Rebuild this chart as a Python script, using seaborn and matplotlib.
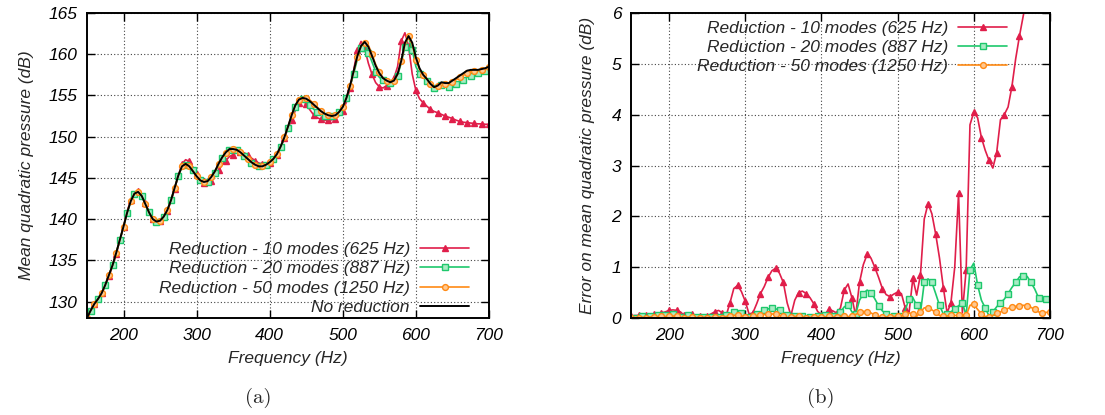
import numpy as np
import pandas as pd
import matplotlib
matplotlib.use("Agg")
import matplotlib.pyplot as plt
import seaborn as sns

# frequency grid (Hz)
freq = np.arange(150, 705, 5)

# (a) mean quadratic pressure (dB)
ref_db = [128.0, 128.9, 129.7, 130.3, 131.0, 132.0, 133.2, 134.4, 135.9, 137.5,
          139.1, 140.8, 142.2, 143.1, 143.3, 142.8, 141.8, 140.8, 140.0, 139.7,
          139.8, 140.3, 141.1, 142.3, 143.8, 145.3, 146.4, 146.7, 146.4, 145.8,
          145.2, 144.7, 144.5, 144.6, 145.1, 145.8, 146.7, 147.5, 148.1, 148.5,
          148.5, 148.4, 148.1, 147.7, 147.3, 146.9, 146.6, 146.4, 146.4, 146.6,
          146.9, 147.3, 147.9, 148.8, 149.9, 151.2, 152.6, 153.8, 154.5, 154.7,
          154.6, 154.3, 153.9, 153.5, 153.1, 152.8, 152.6, 152.5, 152.6, 153.0,
          153.6, 154.7, 156.2, 158.0, 159.8, 161.0, 161.5, 160.9, 159.8, 158.6,
          157.7, 157.1, 156.8, 156.6, 156.8, 157.6, 159.2, 161.4, 162.2, 161.4,
          159.6, 158.3, 157.5, 157.0, 156.4, 156.0, 156.2, 156.6, 156.5, 156.5,
          156.8, 157.1, 157.4, 157.7, 158.0, 158.1, 158.1, 158.1, 158.2, 158.3,
          158.5]
red10_db = [128.0, 128.95, 129.75, 130.35, 131.05, 131.9, 133.1, 134.3, 135.8, 137.4,
            139.0, 140.95, 142.35, 143.2, 143.35, 142.9, 141.9, 140.85, 140.0, 139.7,
            139.75, 140.2, 141.0, 142.15, 143.7, 145.25, 146.7, 147.2, 147.0, 146.3,
            145.5, 144.8, 144.4, 144.3, 144.6, 145.2, 145.9, 146.6, 147.1, 147.6,
            147.8, 148.1, 148.15, 148.05, 147.8, 147.4, 147.1, 146.8, 146.7, 146.7,
            146.85, 147.2, 147.75, 148.65, 149.8, 151.0, 152.05, 153.15, 154.1, 154.65,
            153.9, 153.25, 152.65, 152.3, 152.1, 152.0, 152.0, 152.05, 152.2, 152.55,
            153.1, 154.2, 155.9, 158.1, 160.55, 161.55, 160.7, 158.9, 157.55, 156.55,
            156.05, 155.9, 156.2, 156.4, 157.1, 158.5, 161.6, 162.6, 161.0, 157.6,
            155.6, 154.6, 154.1, 153.7, 153.3, 153.05, 152.9, 152.7, 152.5, 152.35,
            152.2, 152.0, 151.85, 151.75, 151.7, 151.65, 151.6, 151.55, 151.55, 151.5,
            151.5]
green20_db = [128.0, 128.9, 129.7, 130.35, 131.0, 132.05, 133.2, 134.45, 135.95, 137.45,
              139.05, 140.75, 142.15, 143.1, 143.3, 142.85, 141.85, 140.8, 140.0, 139.7,
              139.8, 140.3, 141.1, 142.3, 143.8, 145.25, 146.3, 146.6, 146.5, 145.9,
              145.25, 144.7, 144.45, 144.55, 145.0, 145.65, 146.55, 147.35, 147.95, 148.4,
              148.45, 148.4, 148.1, 147.7, 147.25, 146.85, 146.6, 146.4, 146.35, 146.6,
              146.85, 147.25, 147.85, 148.75, 149.85, 151.1, 152.4, 153.55, 154.4, 154.6,
              154.3, 153.85, 153.35, 153.0, 152.7, 152.55, 152.45, 152.45, 152.55, 152.95,
              153.6, 154.7, 156.1, 157.65, 159.4, 160.75, 161.4, 160.2, 159.05, 157.9,
              157.2, 156.85, 156.7, 156.5, 156.7, 157.4, 158.95, 160.9, 162.15, 160.5,
              158.5, 157.65, 157.15, 156.8, 156.35, 155.9, 155.95, 156.3, 156.15, 156.0,
              156.2, 156.4, 156.6, 156.9, 157.2, 157.4, 157.55, 157.7, 157.85, 157.95,
              158.1]
orange50_db = [128.0, 128.9, 129.7, 130.3, 131.0, 132.0, 133.2, 134.4, 135.9, 137.5,
               139.1, 140.8, 142.2, 143.1, 143.3, 142.8, 141.8, 140.8, 140.0, 139.7,
               139.8, 140.3, 141.1, 142.3, 143.8, 145.3, 146.4, 146.75, 146.45, 145.85,
               145.2, 144.7, 144.5, 144.6, 145.05, 145.75, 146.65, 147.45, 148.05, 148.45,
               148.5, 148.4, 148.1, 147.7, 147.3, 146.9, 146.6, 146.4, 146.4, 146.6,
               146.9, 147.3, 147.9, 148.8, 149.9, 151.2, 152.6, 153.8, 154.5, 154.75,
               154.7, 154.45, 154.0, 153.6, 153.15, 152.8, 152.6, 152.5, 152.6, 153.0,
               153.6, 154.7, 156.15, 157.9, 159.7, 161.0, 161.4, 161.1, 160.0, 158.75,
               157.8, 157.15, 156.8, 156.6, 156.8, 157.55, 159.15, 161.15, 162.15, 161.2,
               159.35, 158.15, 157.45, 157.0, 156.4, 156.0, 156.15, 156.5, 156.35, 156.3,
               156.6, 156.9, 157.2, 157.45, 157.75, 157.9, 157.95, 158.0, 158.1, 158.2,
               158.4]

# (b) error on mean quadratic pressure (dB)
err10 = [0.04, 0.05, 0.05, 0.06, 0.05, 0.08, 0.07, 0.08, 0.10, 0.12,
         0.15, 0.16, 0.15, 0.12, 0.05, 0.08, 0.07, 0.05, 0.03, 0.02,
         0.04, 0.08, 0.12, 0.15, 0.10, 0.05, 0.30, 0.58, 0.64, 0.52,
         0.33, 0.08, 0.10, 0.28, 0.48, 0.62, 0.80, 0.93, 0.98, 0.88,
         0.70, 0.30, 0.05, 0.35, 0.50, 0.53, 0.48, 0.40, 0.28, 0.13,
         0.06, 0.08, 0.17, 0.14, 0.10, 0.20, 0.55, 0.67, 0.40, 0.05,
         0.70, 1.05, 1.25, 1.18, 1.00, 0.80, 0.58, 0.46, 0.42, 0.47,
         0.51, 0.48, 0.20, 0.10, 0.78, 0.45, 0.85, 1.95, 2.25, 2.05,
         1.65, 1.18, 0.60, 0.10, 0.30, 1.00, 2.45, 0.10, 0.95, 3.80,
         4.05, 3.94, 3.55, 3.30, 3.10, 2.95, 3.25, 3.90, 4.00, 4.15,
         4.55, 5.10, 5.55, 5.95, 6.30, 6.45, 6.50, 6.55, 6.65, 6.80,
         7.00]
err20 = [0.02, 0.01, 0.02, 0.03, 0.02, 0.04, 0.03, 0.05, 0.05, 0.06,
         0.07, 0.08, 0.06, 0.02, 0.03, 0.05, 0.04, 0.02, 0.01, 0.02,
         0.01, 0.02, 0.03, 0.02, 0.03, 0.06, 0.09, 0.11, 0.13, 0.10,
         0.05, 0.02, 0.04, 0.07, 0.10, 0.15, 0.18, 0.19, 0.18, 0.16,
         0.10, 0.05, 0.03, 0.04, 0.05, 0.04, 0.03, 0.02, 0.03, 0.04,
         0.05, 0.06, 0.07, 0.03, 0.05, 0.12, 0.22, 0.26, 0.12, 0.08,
         0.35, 0.48, 0.55, 0.50, 0.38, 0.24, 0.14, 0.08, 0.05, 0.04,
         0.03, 0.03, 0.15, 0.38, 0.40, 0.25, 0.10, 0.70, 0.77, 0.70,
         0.48, 0.25, 0.08, 0.08, 0.12, 0.18, 0.24, 0.30, 0.05, 0.95,
         1.08, 0.65, 0.35, 0.20, 0.04, 0.12, 0.22, 0.30, 0.37, 0.48,
         0.60, 0.70, 0.81, 0.83, 0.82, 0.70, 0.57, 0.40, 0.35, 0.37,
         0.39]
err50 = [0.01, 0.01, 0.01, 0.01, 0.01, 0.02, 0.02, 0.02, 0.03, 0.03,
         0.03, 0.04, 0.03, 0.01, 0.01, 0.02, 0.02, 0.01, 0.01, 0.01,
         0.01, 0.01, 0.02, 0.02, 0.01, 0.03, 0.04, 0.05, 0.05, 0.04,
         0.02, 0.01, 0.03, 0.04, 0.05, 0.07, 0.08, 0.08, 0.07, 0.05,
         0.03, 0.01, 0.02, 0.03, 0.03, 0.02, 0.01, 0.01, 0.02, 0.02,
         0.02, 0.02, 0.03, 0.02, 0.02, 0.03, 0.03, 0.03, 0.03, 0.07,
         0.11, 0.13, 0.12, 0.10, 0.06, 0.03, 0.02, 0.02, 0.02, 0.03,
         0.03, 0.04, 0.07, 0.10, 0.08, 0.03, 0.12, 0.20, 0.20, 0.16,
         0.11, 0.05, 0.03, 0.04, 0.05, 0.05, 0.05, 0.06, 0.05, 0.25,
         0.27, 0.17, 0.08, 0.03, 0.02, 0.05, 0.09, 0.12, 0.15, 0.19,
         0.21, 0.23, 0.24, 0.25, 0.24, 0.21, 0.17, 0.12, 0.10, 0.11,
         0.12]

labels = ["Reduction - 10 modes (625 Hz)", "Reduction - 20 modes (887 Hz)",
          "Reduction - 50 modes (1250 Hz)"]
colors = ["#e01e4a", "#1ec86c", "#ff8a14"]
faces = ["#e01e4a", "#a8ecc4", "#ffc890"]
markers = ["^", "s", "o"]
msizes = [4.5, 4.5, 4.2]
mevery = [(0, 2), (1, 2), (0, 2)]

sns.set_style("ticks")
plt.rcParams["font.family"] = ["Liberation Sans", "DejaVu Sans"]
plt.rcParams["font.style"] = "italic"
plt.rcParams["font.size"] = 12.5

fig = plt.figure(figsize=(11.05, 4.15), dpi=100)
ax1 = fig.add_axes([0.0787, 0.2337, 0.3638, 0.7350])
ax2 = fig.add_axes([0.5710, 0.2337, 0.3792, 0.7350])


def style_axes(ax):
    ax.grid(True, color="#444444", linestyle=(0, (1, 2)), linewidth=0.8)
    ax.set_axisbelow(True)
    for s in ax.spines.values():
        s.set_color("black")
        s.set_linewidth(1.4)
    ax.tick_params(direction="in", top=True, right=True, length=6, width=1,
                   labelsize=12.5, pad=7, colors="black")
    ax.set_xlim(150, 700)
    ax.set_xticks([200, 300, 400, 500, 600, 700])
    ax.set_xlabel("Frequency (Hz)", fontsize=12.5, labelpad=6)


series_a = [red10_db, green20_db, orange50_db]
for vals, lab, c, fc, m, ms, me in zip(series_a, labels, colors, faces, markers, msizes, mevery):
    sns.lineplot(x=freq, y=vals, ax=ax1, color=c, marker=m, markevery=me, ms=ms,
                 mfc=fc, mec=c, mew=1.0, lw=1.2, label=lab, errorbar=None)
sns.lineplot(x=freq, y=ref_db, ax=ax1, color="black", lw=1.4, label="No reduction",
             errorbar=None)
style_axes(ax1)
ax1.set_ylim(128, 165)
ax1.set_yticks(np.arange(130, 166, 5))
ax1.set_ylabel("Mean quadratic pressure (dB)", fontsize=12.5, labelpad=10)
ax1.legend(loc="lower right", bbox_to_anchor=(0.95, 0.01), frameon=False,
           markerfirst=False, handlelength=2.8, handletextpad=0.6,
           labelspacing=0.24, borderpad=0, borderaxespad=0, fontsize=12.5)

series_b = [err10, err20, err50]
for vals, lab, c, fc, m, ms, me in zip(series_b, labels, colors, faces, markers, msizes, mevery):
    sns.lineplot(x=freq, y=vals, ax=ax2, color=c, marker=m, markevery=me, ms=ms,
                 mfc=fc, mec=c, mew=1.0, lw=1.2, label=lab, errorbar=None)
style_axes(ax2)
ax2.set_ylim(0, 6)
ax2.set_yticks(range(0, 7))
ax2.set_ylabel("Error on mean quadratic pressure (dB)", fontsize=12.5, labelpad=12)
ax2.legend(loc="upper right", bbox_to_anchor=(0.897, 0.975), frameon=False,
           markerfirst=False, handlelength=2.8, handletextpad=0.6,
           labelspacing=0.24, borderpad=0, borderaxespad=0, fontsize=12.5)

fig.text(0.2335, 0.041, "(a)", ha="center", va="center", fontsize=15,
         family="cmr10", style="normal")
fig.text(0.743, 0.041, "(b)", ha="center", va="center", fontsize=15,
         family="cmr10", style="normal")

fig.savefig("out.png", dpi=100)
